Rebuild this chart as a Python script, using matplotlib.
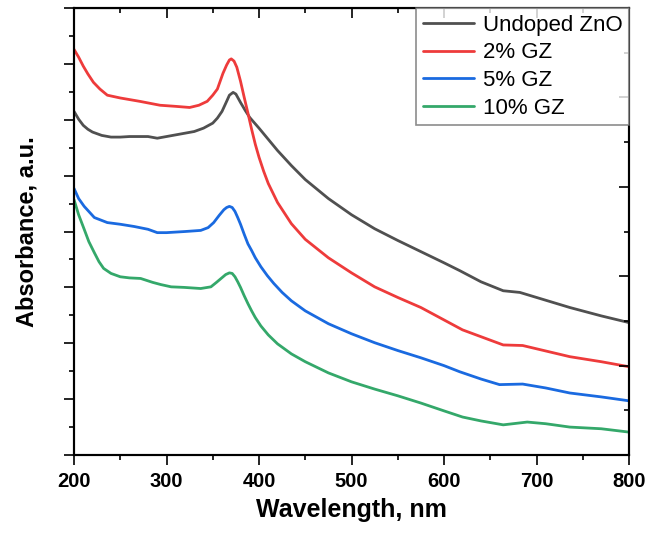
import matplotlib
matplotlib.use("Agg")
import matplotlib.pyplot as plt
from matplotlib.ticker import MultipleLocator, NullFormatter

plt.rcParams['font.family'] = ['Liberation Sans', 'DejaVu Sans']

# Undoped ZnO
wl_zno = [200, 205, 210, 215, 220, 230, 240, 250, 260, 280, 290, 300, 320, 330, 340,
          350, 355, 360, 365, 368, 372, 375, 380, 385, 390, 400, 410, 420, 435, 450,
          475, 500, 525, 550, 575, 600, 617, 640, 664, 682, 700, 736, 770, 800]
abs_zno = [6.15, 6.01, 5.90, 5.83, 5.78, 5.72, 5.69, 5.69, 5.70, 5.70, 5.67, 5.70, 5.76, 5.79, 5.85,
           5.94, 6.03, 6.15, 6.33, 6.44, 6.49, 6.46, 6.31, 6.17, 6.04, 5.85, 5.65, 5.45, 5.18, 4.93,
           4.59, 4.30, 4.05, 3.84, 3.64, 3.44, 3.30, 3.10, 2.94, 2.91, 2.82, 2.64, 2.49, 2.37]

# 2% GZ
wl_gz2 = [200, 205, 210, 215, 221, 228, 236, 250, 271, 293, 310, 325, 335, 344, 350,
          355, 358, 361, 365, 368, 370, 373, 376, 380, 384, 388, 392, 396, 400, 405,
          410, 420, 435, 450, 475, 500, 525, 550, 575, 620, 664, 685, 736, 770, 800]
abs_gz2 = [7.26, 7.12, 6.96, 6.82, 6.67, 6.55, 6.44, 6.39, 6.33, 6.26, 6.24, 6.22, 6.26, 6.33, 6.44,
           6.55, 6.69, 6.83, 6.98, 7.07, 7.09, 7.05, 6.94, 6.69, 6.40, 6.12, 5.83, 5.56, 5.33, 5.08,
           4.86, 4.52, 4.14, 3.86, 3.53, 3.26, 3.01, 2.82, 2.64, 2.24, 1.97, 1.96, 1.76, 1.67, 1.58]

# 5% GZ
wl_gz5 = [200, 205, 211, 222, 236, 250, 265, 280, 290, 300, 320, 337, 345, 351, 357,
          362, 365, 368, 371, 374, 377, 380, 384, 388, 392, 396, 402, 409, 416, 425,
          435, 450, 475, 500, 525, 550, 575, 600, 617, 640, 660, 685, 710, 736, 770, 800]
abs_gz5 = [4.77, 4.59, 4.45, 4.25, 4.16, 4.13, 4.09, 4.04, 3.98, 3.98, 4.00, 4.02, 4.07, 4.16, 4.29,
           4.39, 4.43, 4.45, 4.43, 4.36, 4.25, 4.13, 3.95, 3.78, 3.66, 3.53, 3.37, 3.21, 3.07, 2.91,
           2.76, 2.58, 2.35, 2.17, 2.01, 1.87, 1.74, 1.60, 1.49, 1.36, 1.26, 1.27, 1.20, 1.11, 1.04, 0.97]

# 10% GZ
wl_gz10 = [200, 205, 211, 216, 222, 227, 232, 240, 250, 260, 272, 285, 294, 305, 319,
           337, 348, 354, 359, 364, 368, 371, 374, 377, 380, 384, 388, 392, 396, 402,
           410, 420, 435, 450, 475, 500, 525, 550, 575, 600, 620, 640, 664, 690, 710,
           736, 770, 800]
abs_gz10 = [4.57, 4.30, 4.04, 3.82, 3.62, 3.46, 3.34, 3.25, 3.19, 3.17, 3.16, 3.09, 3.05, 3.01, 3.00,
            2.98, 3.01, 3.09, 3.16, 3.23, 3.26, 3.25, 3.19, 3.10, 3.00, 2.85, 2.71, 2.58, 2.46, 2.31,
            2.15, 1.99, 1.81, 1.67, 1.47, 1.31, 1.18, 1.06, 0.93, 0.79, 0.68, 0.61, 0.54, 0.59, 0.56,
            0.50, 0.47, 0.41]

fig = plt.figure(figsize=(6.47, 5.35), dpi=100)
ax = fig.add_axes([0.1144, 0.1495, 0.8578, 0.8355])

lw = 2.0
style = dict(lw=lw, solid_joinstyle='round', solid_capstyle='round')
ax.plot(wl_zno, abs_zno, color='#505050', label='Undoped ZnO', **style)
ax.plot(wl_gz2, abs_gz2, color='#EE3B3B', label='2% GZ', **style)
ax.plot(wl_gz5, abs_gz5, color='#1A6AE0', label='5% GZ', **style)
ax.plot(wl_gz10, abs_gz10, color='#34A86A', label='10% GZ', **style)

ax.set_xlim(200, 800)
ax.set_ylim(0, 8)
ax.xaxis.set_major_locator(MultipleLocator(100))
ax.xaxis.set_minor_locator(MultipleLocator(50))
ax.yaxis.set_major_locator(MultipleLocator(1))
ax.yaxis.set_minor_locator(MultipleLocator(0.5))
ax.yaxis.set_major_formatter(NullFormatter())
ax.tick_params(which='both', direction='out', width=1.2, top=False, right=False)
ax.tick_params(which='major', length=7)
ax.tick_params(which='minor', length=3.5)
ax.tick_params(axis='x', labelsize=14.5, pad=5)
for lab in ax.get_xticklabels():
    lab.set_fontweight('bold')
for sp in ax.spines.values():
    sp.set_linewidth(1.5)

# top ticks (inward)
top = ax.secondary_xaxis('top')
top.xaxis.set_major_locator(MultipleLocator(100))
top.xaxis.set_minor_locator(MultipleLocator(50))
top.xaxis.set_major_formatter(NullFormatter())
top.tick_params(which='both', direction='in', width=1.2)
top.tick_params(which='major', length=7)
top.tick_params(which='minor', length=3.5)

# right ticks (inward, own scale)
right = ax.twinx()
right.set_ylim(0, 5)
right.yaxis.set_major_locator(MultipleLocator(1))
right.yaxis.set_minor_locator(MultipleLocator(0.5))
right.yaxis.set_major_formatter(NullFormatter())
right.tick_params(which='both', direction='in', width=1.2)
right.tick_params(which='major', length=7)
right.tick_params(which='minor', length=3.5)
for sp in right.spines.values():
    sp.set_linewidth(1.5)

ax.set_xlabel('Wavelength, nm', fontsize=18, fontweight='bold', labelpad=5)
ax.set_ylabel('Absorbance, a.u.', fontsize=17, fontweight='bold', labelpad=15)

leg = right.legend(*ax.get_legend_handles_labels(), loc='upper right', fontsize=16,
                   frameon=True, fancybox=False, borderaxespad=0, labelspacing=0.3,
                   handlelength=2.3, handletextpad=0.4, borderpad=0.3)
leg.get_frame().set_edgecolor('#707070')
leg.get_frame().set_linewidth(1.2)

fig.savefig('out.png', dpi=100)
